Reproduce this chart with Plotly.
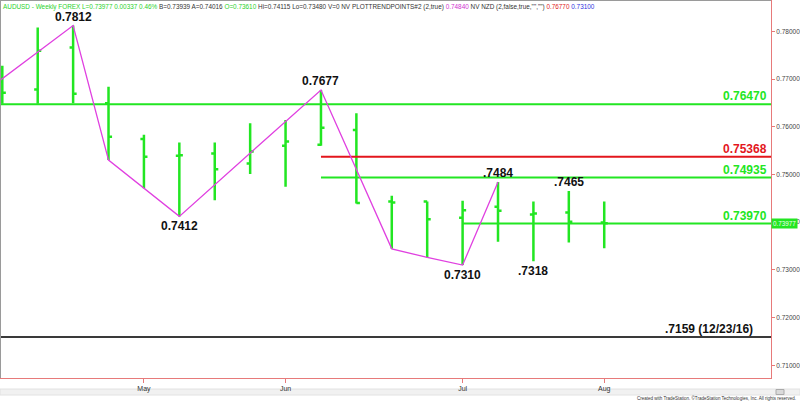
import plotly.graph_objects as go

# ---------------- data ----------------
weeks = ["2018-04-06", "2018-04-13", "2018-04-20", "2018-04-27", "2018-05-04", "2018-05-11",
         "2018-05-18", "2018-05-25", "2018-06-01", "2018-06-08", "2018-06-15", "2018-06-22",
         "2018-06-29", "2018-07-06", "2018-07-13", "2018-07-20", "2018-07-27", "2018-08-03"]
opens  = [0.7694, 0.7678, 0.7766, 0.7649, 0.7574, 0.7539, 0.7544, 0.7523, 0.7560, 0.7562,
          0.7593, 0.7443, 0.7443, 0.7409, 0.7432, 0.7416, 0.7420, 0.7399]
highs  = [0.7728, 0.7808, 0.7812, 0.7684, 0.7583, 0.7567, 0.7567, 0.7607, 0.7614, 0.7677,
          0.7628, 0.7455, 0.7443, 0.7445, 0.7484, 0.7443, 0.7465, 0.7443]
lows   = [0.7648, 0.7648, 0.7649, 0.7530, 0.7471, 0.7412, 0.7446, 0.7501, 0.7474, 0.7560,
          0.7439, 0.7344, 0.7326, 0.7310, 0.7359, 0.7318, 0.7357, 0.7345]
closes = [0.7671, 0.7759, 0.7669, 0.7579, 0.7537, 0.7540, 0.7511, 0.7548, 0.7569, 0.7598,
          0.7440, 0.7441, 0.7406, 0.7425, 0.7424, 0.7418, 0.7401, 0.73977]

# zigzag trend points (bar index, price); index -1 is the week before the first visible bar
pivot_idx   = [-1, 2, 3, 4, 5, 9, 11, 12, 13, 14]
pivot_price = [0.7645, 0.7812, 0.7530, 0.7471, 0.7412, 0.7677, 0.7344, 0.7326, 0.7310, 0.7484]

# price labels at swing points
label_idx   = [2, 5, 9, 13, 14, 15, 16]
label_price = [0.7812, 0.7412, 0.7677, 0.7310, 0.7484, 0.7318, 0.7465]
label_text  = ["0.7812", "0.7412", "0.7677", "0.7310", ".7484", ".7318", ".7465"]
label_above = [True, False, True, False, True, False, True]

# horizontal levels
level_values = [0.76470, 0.75368, 0.74935, 0.73970, 0.7159]
level_start  = [None, 9, 9, 13, None]
level_text   = ["0.76470", "0.75368", "0.74935", "0.73970", ".7159 (12/23/16)"]
level_colors = ["#22E622", "#E3161C", "#22E622", "#22E622", "#3A3A3A"]

month_idx  = [4, 8, 13, 17]
month_text = ["May", "Jun", "Jul", "Aug"]
y_ticks    = [0.71, 0.72, 0.73, 0.74, 0.75, 0.76, 0.77, 0.78]
last_price = 0.73977

# ---------------- layout constants ----------------
W, H = 800, 402
ML, MR, MT, MB = 0, 29, 0, 24
X_MIN, X_MAX = -0.065, 21.71
Y_MIN, Y_MAX = 0.70732, 0.78656
GREEN = "#22E622"
SANS = "Liberation Sans, Arial, sans-serif"
plot_h = H - MT - MB
plot_w = W - ML - MR

def py(pix):   # pixel row -> paper y
    return (H - MB - pix) / plot_h

def px(pix):   # pixel column -> paper x
    return (pix - ML) / plot_w

idx = list(range(len(weeks)))

fig = go.Figure()

# levels
for v, s, c in zip(level_values, level_start, level_colors):
    x0 = X_MIN if s is None else s
    fig.add_trace(go.Scatter(x=[x0, X_MAX], y=[v, v], mode="lines",
                             line=dict(color=c, width=2), hoverinfo="skip"))

# OHLC bars
fig.add_trace(go.Ohlc(x=idx, open=opens, high=highs, low=lows, close=closes,
                      increasing=dict(line=dict(color=GREEN, width=2.5)),
                      decreasing=dict(line=dict(color=GREEN, width=2.5)),
                      tickwidth=0.1, hoverinfo="skip"))

# zigzag
fig.add_trace(go.Scatter(x=pivot_idx, y=pivot_price, mode="lines",
                         line=dict(color="#E040E0", width=1.3), hoverinfo="skip"))

annotations = []
for i, p, t, up in zip(label_idx, label_price, label_text, label_above):
    annotations.append(dict(x=i, y=p, xref="x", yref="y", text=f"<b>{t}</b>", showarrow=False,
                            xanchor="center", yanchor="bottom" if up else "top",
                            yshift=0 if up else -1,
                            font=dict(family=SANS, size=12, color="#111111")))

for v, t, c in zip(level_values, level_text, level_colors):
    is_num = t.startswith("0")
    annotations.append(dict(x=1, y=v, xref="paper", yref="y", text=f"<b>{t}</b>", showarrow=False,
                            xanchor="right", yanchor="bottom", xshift=-2 if is_num else -16, yshift=-1,
                            font=dict(family=SANS, size=12, color=c if is_num else "#111111")))

# current price tag on axis
annotations.append(dict(x=1, y=last_price, xref="paper", yref="y", text=f"{last_price:.5f}",
                        showarrow=False, xanchor="left", yanchor="middle", bgcolor=GREEN,
                        borderpad=1, font=dict(family=SANS, size=6.3, color="#EFFFEF")))

# header
header = ("<span style='color:#2BD22B'>AUDUSD - Weekly FOREX L=0.73977 0.00337 0.46%</span> "
          "<span style='color:#333'>B=0.73939 A=0.74016</span> "
          "<span style='color:#2BD22B'>O=0.73610</span> "
          "<span style='color:#333'>Hi=0.74115 Lo=0.73480 V=0 NV PLOTTRENDPOINTS#2 (2,true)</span> "
          "<span style='color:#D030D0'>0.74840</span> "
          "<span style='color:#333'>NV NZD (2,false,true,\"\",\"\")</span> "
          "<span style='color:#E02020'>0.76770</span> "
          "<span style='color:#3030E0'>0.73100</span>")
annotations.append(dict(x=px(1), y=py(1), xref="paper", yref="paper", text=header, showarrow=False,
                        xanchor="left", yanchor="top", font=dict(family=SANS, size=6.4, color="#333")))

# footer
annotations.append(dict(x=px(798), y=py(398), xref="paper", yref="paper",
                        text="Created with TradeStation. \u00a9TradeStation Technologies, Inc. All rights reserved.",
                        showarrow=False, xanchor="right", yanchor="middle",
                        font=dict(family=SANS, size=4.5, color="#333")))

shapes = [
    dict(type="line", xref="paper", yref="paper", x0=px(0.5), x1=px(0.5), y0=0, y1=1,
         line=dict(color="#9A9A9A", width=1)),
    dict(type="line", xref="paper", yref="paper", x0=0, x1=1, y0=py(0.5), y1=py(0.5),
         line=dict(color="#9A9A9A", width=1)),
    # scrollbar
    dict(type="rect", xref="paper", yref="paper", x0=px(0), x1=px(800), y0=py(395), y1=py(389),
         fillcolor="#F1F1F1", line=dict(color="#E2E2E2", width=1), layer="below"),
    dict(type="rect", xref="paper", yref="paper", x0=px(776), x1=px(784), y0=py(394.5), y1=py(389.5),
         fillcolor="#DADADA", line=dict(color="#AAAAAA", width=1), layer="below"),
]

fig.update_layout(
    width=W, height=H, margin=dict(l=ML, r=MR, t=MT, b=MB, autoexpand=False),
    plot_bgcolor="white", paper_bgcolor="white", showlegend=False,
    annotations=annotations, shapes=shapes,
    xaxis=dict(range=[X_MIN, X_MAX], tickvals=month_idx, ticktext=month_text, automargin=False,
               showgrid=False, zeroline=False, showline=True, linecolor="#E77A7A", linewidth=1,
               ticks="outside", ticklen=4, tickcolor="#E77A7A",
               tickfont=dict(family=SANS, size=7, color="#333"),
               rangeslider=dict(visible=False), fixedrange=True),
    yaxis=dict(range=[Y_MIN, Y_MAX], side="right", tickvals=y_ticks, tickformat=".5f", automargin=False,
               showgrid=False, zeroline=False, showline=True, linecolor="#E77A7A", linewidth=1,
               ticks="outside", ticklen=3, tickcolor="#E77A7A",
               tickfont=dict(family=SANS, size=6.5, color="#444"), fixedrange=True),
)

fig.write_html("out.html", config={"displayModeBar": False},
               post_script="document.body.style.margin='0';document.body.style.overflow='hidden';")
